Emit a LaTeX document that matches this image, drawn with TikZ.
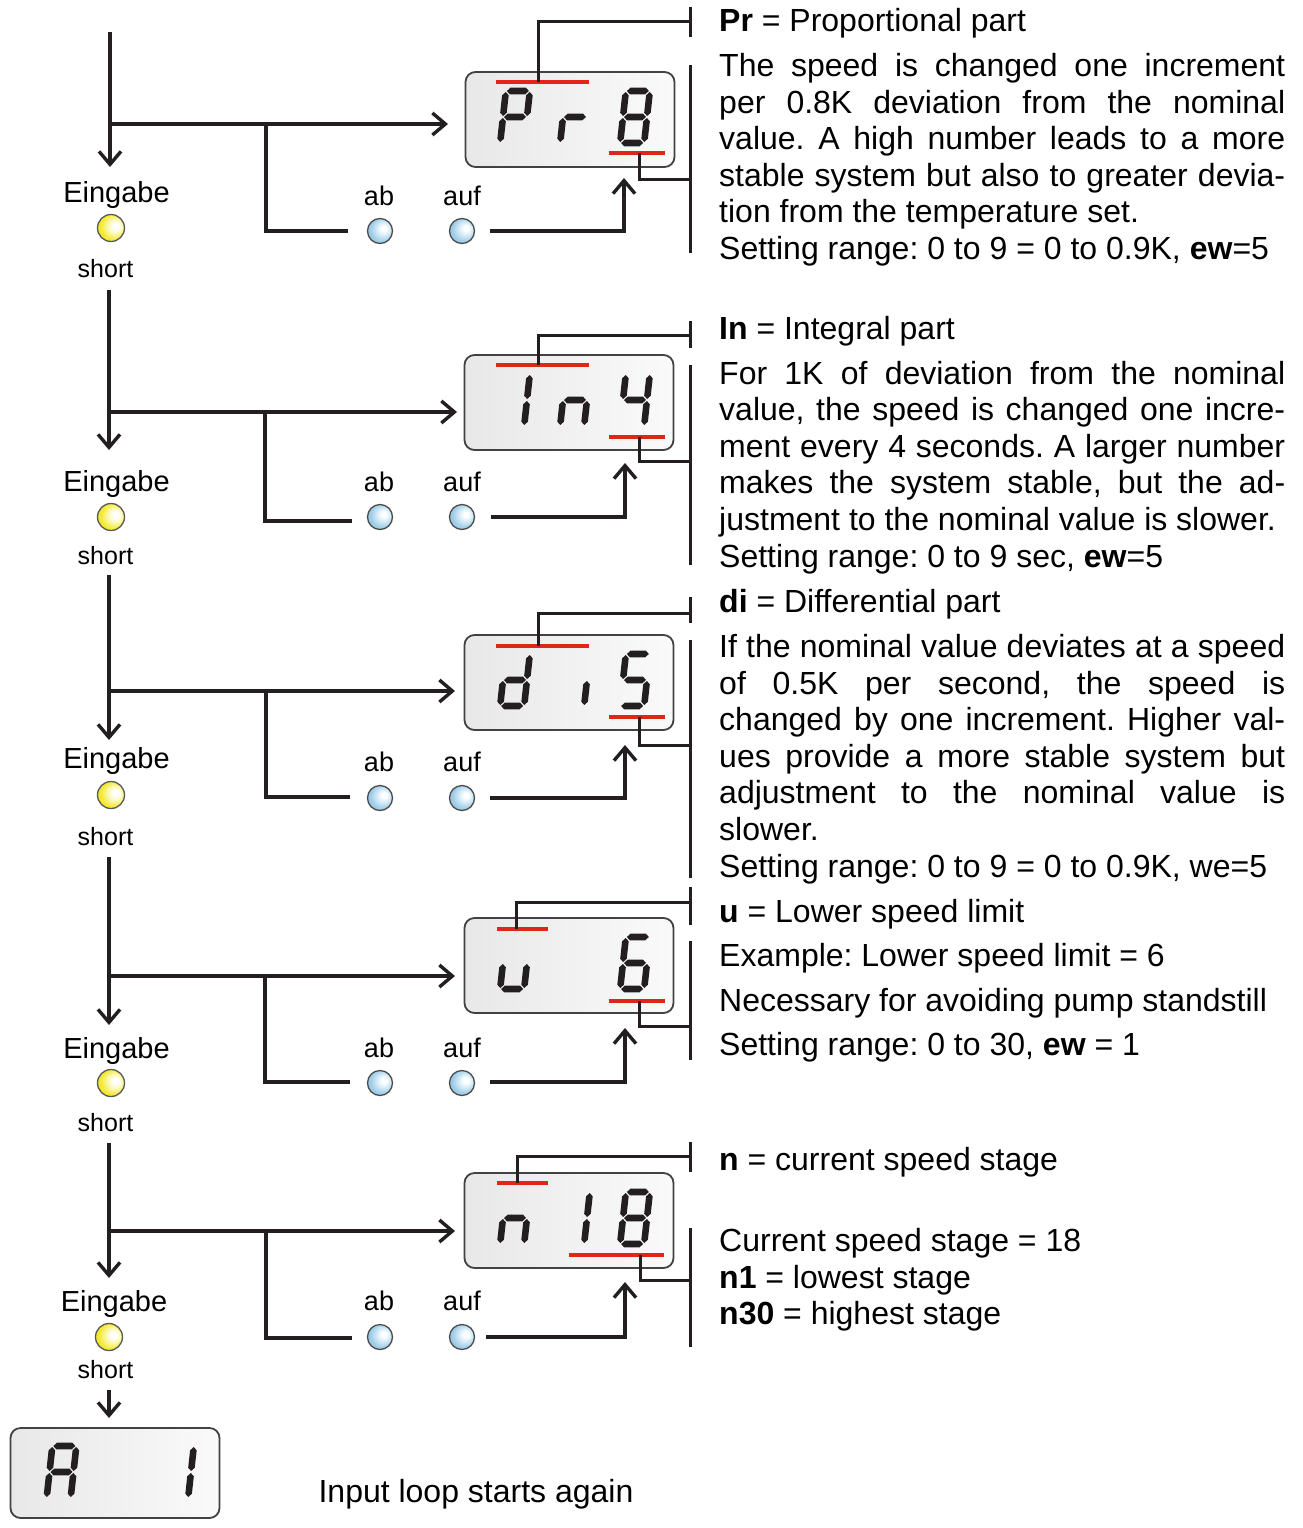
\documentclass[tikz,border=0pt]{standalone}
\usepackage{fontspec}
\setmainfont{Liberation Sans}
\usetikzlibrary{arrows.meta}
\definecolor{ink}{HTML}{231F20}
\definecolor{redbarc}{HTML}{E0251B}
\definecolor{ledhi}{HTML}{FFFFFF}
\definecolor{ledlite}{HTML}{FCF8B8}
\definecolor{ledmid}{HTML}{F3EA33}
\definecolor{ledmidb}{HTML}{E8DB22}
\definecolor{leddark}{HTML}{B5A61A}
\definecolor{btnlite}{HTML}{D6ECF8}
\definecolor{btnmid}{HTML}{9FCDE8}
\definecolor{btnmidb}{HTML}{88BADA}
\definecolor{btndark}{HTML}{4E84A8}
\pgfdeclareradialshading{ledshade}{\pgfpoint{10bp}{4bp}}{color(0bp)=(ledhi); color(5bp)=(ledhi); color(13bp)=(ledlite); color(24bp)=(ledmid); color(42bp)=(ledmidb); color(50bp)=(leddark)}
\pgfdeclareradialshading{btnshade}{\pgfpoint{9bp}{6bp}}{color(0bp)=(ledhi); color(5bp)=(ledhi); color(13bp)=(btnlite); color(24bp)=(btnmid); color(42bp)=(btnmidb); color(50bp)=(btndark)}
\tolerance=10000
\hbadness=10000
\hyphenpenalty=10000
\frenchspacing
\newcommand\hsegm[3]{\fill[ink] (#1,#3) -- ({#1+3.3},{#3-3.3}) -- ({#2-3.3},{#3-3.3}) -- (#2,#3) -- ({#2-3.3},{#3+3.3}) -- ({#1+3.3},{#3+3.3}) -- cycle;}
\newcommand\vsegm[3]{\fill[ink] (#1,#2) -- ({#1+3.3},{#2+3.3}) -- ({#1+3.3},{#3-3.3}) -- (#1,#3) -- ({#1-3.3},{#3-3.3}) -- ({#1-3.3},{#2+3.3}) -- cycle;}
\newcommand\segA{\hsegm{-11}{11}{-26}}
\newcommand\segG{\hsegm{-11}{11}{0}}
\newcommand\segD{\hsegm{-11}{11}{26}}
\newcommand\segF{\vsegm{-12}{-25}{-1}}
\newcommand\segB{\vsegm{12}{-25}{-1}}
\newcommand\segE{\vsegm{-12}{1}{25}}
\newcommand\segC{\vsegm{12}{1}{25}}
\newcommand\sdigit[3]{\begin{scope}[shift={(#1,#2)},xslant=0.11]\foreach \s in {#3}{\csname seg\s\endcsname}\end{scope}}
\begin{document}
\begin{tikzpicture}[x=1pt,y=-1pt,
  conn/.style={draw=ink,line width=3.4pt},
  arr/.style={conn,-{Straight Barb[length=13pt,width=22pt]}},
  brk/.style={draw=ink,line width=3pt},
  redln/.style={draw=redbarc,line width=4.5pt},
  disp/.style={draw=ink!85,line width=1.8pt,rounded corners=10pt,left color=black!9,right color=black!2,minimum width=209pt,minimum height=95pt,inner sep=0pt},
  led/.style={circle,draw=black!65,line width=1.3pt,minimum size=27pt,inner sep=0pt,shading=ledshade},
  btn/.style={circle,draw=black!70,line width=1.3pt,minimum size=25pt,inner sep=0pt,shading=btnshade},
  eing/.style={anchor=base,inner sep=0pt,font=\fontsize{29}{33}\selectfont},
  shortlbl/.style={anchor=base,inner sep=0pt,font=\fontsize{25}{29}\selectfont},
  blbl/.style={anchor=base,inner sep=0pt,font=\fontsize{27}{31}\selectfont},
  hdr/.style={anchor=base west,inner sep=0pt,font=\fontsize{32}{36.6}\selectfont},
  para/.style={anchor=base west,inner sep=0pt,text width=566pt,align=justify,font=\fontsize{32}{36.6}\selectfont}
]
\useasboundingbox (0,0) rectangle (1303,1528);
\fill[white] (0,0) rectangle (1303,1528);

% ================= Block 1 =================
\node[disp] (d1) at (570,119.5) {};
\sdigit{515}{117}{A,B,F,G,E}
\sdigit{575}{117}{E,G}
\sdigit{635}{117}{A,B,C,D,E,F,G}
\coordinate (r1a) at (496,82); \coordinate (r1b) at (589,82);
\coordinate (r1c) at (609,153); \coordinate (r1d) at (665,153);
\draw[redln] (r1a) -- (r1b);
\draw[redln] (r1c) -- (r1d);
\coordinate (p1) at (538,82); \coordinate (q1) at (690,22);
\draw[brk] (p1) |- (q1);
\coordinate (k1a) at (690,7); \coordinate (k1b) at (690,37);
\draw[brk] (k1a) -- (k1b);
\coordinate (p1b) at (639,153); \coordinate (q1b) at (690,179);
\draw[brk] (p1b) |- (q1b);
\coordinate (w1a) at (690,65); \coordinate (w1b) at (690,253);
\draw[brk] (w1a) -- (w1b);

\coordinate (v0) at (110,32); \coordinate (t1) at (110,167);
\draw[arr] (v0) -- (t1);
\node[eing] (e1) at (116.5,202) {Eingabe};
\node[led] (l1) at (111,228) {};
\node[shortlbl] (s1) at (105.5,277) {short};
\coordinate (h1) at (110,124); \coordinate (h1t) at (448,124);
\draw[arr] (h1) -- (h1t);
\coordinate (j1) at (266,124); \coordinate (j1e) at (348,231);
\draw[conn] (j1) |- (j1e);
\node[btn] (ab1) at (380,231) {};
\node[btn] (auf1) at (462,231) {};
\node[blbl] (abl1) at (379,205) {ab};
\node[blbl] (aufl1) at (462,205) {auf};
\coordinate (u1s) at (490,231); \coordinate (u1t) at (624,178);
\draw[arr] (u1s) -| (u1t);

\node[hdr] (th1) at (719,32) {\textbf{Pr} = Proportional part};
\node[para] (tp1) at (719,76.5) {The speed is changed one increment\linebreak per 0.8K deviation from the nominal\linebreak value. A high number leads to a more\linebreak stable system but also to greater devia-\linebreak tion from the temperature set.\par Setting range: 0 to 9 = 0 to 0.9K, \textbf{ew}=5};

% ================= Block 2 =================
\node[disp] (d2) at (569,402.5) {};
\sdigit{515}{400}{B,C}
\sdigit{575}{400}{C,E,G}
\sdigit{635}{400}{B,C,F,G}
\coordinate (r2a) at (496,365); \coordinate (r2b) at (589,365);
\coordinate (r2c) at (609,437); \coordinate (r2d) at (665,437);
\draw[redln] (r2a) -- (r2b);
\draw[redln] (r2c) -- (r2d);
\coordinate (p2) at (538,365); \coordinate (q2) at (690,335);
\draw[brk] (p2) |- (q2);
\coordinate (k2a) at (690,321); \coordinate (k2b) at (690,348);
\draw[brk] (k2a) -- (k2b);
\coordinate (p2b) at (639,437); \coordinate (q2b) at (690,461);
\draw[brk] (p2b) |- (q2b);
\coordinate (w2a) at (690,365); \coordinate (w2b) at (690,565);
\draw[brk] (w2a) -- (w2b);

\coordinate (v1) at (109,290); \coordinate (t2) at (109,450);
\draw[arr] (v1) -- (t2);
\node[eing] (e2) at (116.5,491) {Eingabe};
\node[led] (l2) at (111,517) {};
\node[shortlbl] (s2) at (105.5,564) {short};
\coordinate (h2) at (109,412); \coordinate (h2t) at (457,412);
\draw[arr] (h2) -- (h2t);
\coordinate (j2) at (265,412); \coordinate (j2e) at (352,521);
\draw[conn] (j2) |- (j2e);
\node[btn] (ab2) at (380,517) {};
\node[btn] (auf2) at (462,517) {};
\node[blbl] (abl2) at (379,491.5) {ab};
\node[blbl] (aufl2) at (462,491.5) {auf};
\coordinate (u2s) at (491,517); \coordinate (u2t) at (625,463);
\draw[arr] (u2s) -| (u2t);

\node[hdr] (th2) at (719,339) {\textbf{In} = Integral part};
\node[para] (tp2) at (719,384) {For 1K of deviation from the nominal\linebreak value, the speed is changed one incre-\linebreak ment every 4 seconds. A larger number\linebreak makes the system stable, but the ad-\linebreak justment to the nominal value is slower.\par Setting range: 0 to 9 sec, \textbf{ew}=5};

% ================= Block 3 =================
\node[disp] (d3) at (569,682.5) {};
\sdigit{515}{680}{B,C,D,E,G}
\sdigit{575}{680}{C}
\sdigit{635}{680}{A,F,G,C,D}
\coordinate (r3a) at (496,646); \coordinate (r3b) at (589,646);
\coordinate (r3c) at (609,717); \coordinate (r3d) at (665,717);
\draw[redln] (r3a) -- (r3b);
\draw[redln] (r3c) -- (r3d);
\coordinate (p3) at (538,646); \coordinate (q3) at (690,613);
\draw[brk] (p3) |- (q3);
\coordinate (k3a) at (690,597); \coordinate (k3b) at (690,623);
\draw[brk] (k3a) -- (k3b);
\coordinate (p3b) at (639,717); \coordinate (q3b) at (690,745);
\draw[brk] (p3b) |- (q3b);
\coordinate (w3a) at (690,640); \coordinate (w3b) at (690,878);
\draw[brk] (w3a) -- (w3b);

\coordinate (v2) at (109,575); \coordinate (t3) at (109,740);
\draw[arr] (v2) -- (t3);
\node[eing] (e3) at (116.5,768) {Eingabe};
\node[led] (l3) at (111,795) {};
\node[shortlbl] (s3) at (105.5,845) {short};
\coordinate (h3) at (109,691); \coordinate (h3t) at (455,691);
\draw[arr] (h3) -- (h3t);
\coordinate (j3) at (266,691); \coordinate (j3e) at (350,797);
\draw[conn] (j3) |- (j3e);
\node[btn] (ab3) at (380,798) {};
\node[btn] (auf3) at (462,798) {};
\node[blbl] (abl3) at (379,771.5) {ab};
\node[blbl] (aufl3) at (462,771.5) {auf};
\coordinate (u3s) at (490,798); \coordinate (u3t) at (625,745);
\draw[arr] (u3s) -| (u3t);

\node[hdr] (th3) at (719,612) {\textbf{di} = Differential part};
\node[para] (tp3) at (719,657.5) {If the nominal value deviates at a speed\linebreak of 0.5K per second, the speed is\linebreak changed by one increment. Higher val-\linebreak ues provide a more stable system but\linebreak adjustment to the nominal value is\linebreak slower.\par Setting range: 0 to 9 = 0 to 0.9K, we=5};

% ================= Block 4 =================
\node[disp] (d4) at (569,965.5) {};
\sdigit{515}{963}{C,D,E}
\sdigit{635}{963}{A,F,G,E,D,C}
\coordinate (r4a) at (497,929); \coordinate (r4b) at (548,929);
\coordinate (r4c) at (609,1001); \coordinate (r4d) at (665,1001);
\draw[redln] (r4a) -- (r4b);
\draw[redln] (r4c) -- (r4d);
\coordinate (p4) at (516,929); \coordinate (q4) at (690,902);
\draw[brk] (p4) |- (q4);
\coordinate (k4a) at (690,887); \coordinate (k4b) at (690,925);
\draw[brk] (k4a) -- (k4b);
\coordinate (p4b) at (639,1001); \coordinate (q4b) at (690,1026);
\draw[brk] (p4b) |- (q4b);
\coordinate (w4a) at (690,941); \coordinate (w4b) at (690,1060);
\draw[brk] (w4a) -- (w4b);

\coordinate (v3) at (109,857); \coordinate (t4) at (109,1025);
\draw[arr] (v3) -- (t4);
\node[eing] (e4) at (116.5,1058) {Eingabe};
\node[led] (l4) at (111,1083) {};
\node[shortlbl] (s4) at (105.5,1131) {short};
\coordinate (h4) at (109,976); \coordinate (h4t) at (455,976);
\draw[arr] (h4) -- (h4t);
\coordinate (j4) at (265,976); \coordinate (j4e) at (350,1082);
\draw[conn] (j4) |- (j4e);
\node[btn] (ab4) at (380,1083) {};
\node[btn] (auf4) at (462,1083) {};
\node[blbl] (abl4) at (379,1057.5) {ab};
\node[blbl] (aufl4) at (462,1057.5) {auf};
\coordinate (u4s) at (490,1082); \coordinate (u4t) at (625,1028);
\draw[arr] (u4s) -| (u4t);

\node[hdr] (th4a) at (719,922.5) {\textbf{u} = Lower speed limit};
\node[hdr] (th4b) at (719,966.5) {Example: Lower speed limit = 6};
\node[hdr] (th4c) at (719,1011) {Necessary for avoiding pump standstill};
\node[hdr] (th4d) at (719,1055) {Setting range: 0 to 30, \textbf{ew} = 1};

% ================= Block 5 =================
\node[disp] (d5) at (569,1220.5) {};
\sdigit{515}{1218}{C,E,G}
\sdigit{575}{1218}{B,C}
\sdigit{635}{1218}{A,B,C,D,E,F,G}
\coordinate (r5a) at (497,1183); \coordinate (r5b) at (548,1183);
\coordinate (r5c) at (569,1255); \coordinate (r5d) at (664,1255);
\draw[redln] (r5a) -- (r5b);
\draw[redln] (r5c) -- (r5d);
\coordinate (p5) at (517,1183); \coordinate (q5) at (690,1156);
\draw[brk] (p5) |- (q5);
\coordinate (k5a) at (690,1142); \coordinate (k5b) at (690,1172);
\draw[brk] (k5a) -- (k5b);
\coordinate (p5b) at (640,1255); \coordinate (q5b) at (690,1280);
\draw[brk] (p5b) |- (q5b);
\coordinate (w5a) at (690,1228); \coordinate (w5b) at (690,1347);
\draw[brk] (w5a) -- (w5b);

\coordinate (v4) at (109,1143); \coordinate (t5) at (109,1278);
\draw[arr] (v4) -- (t5);
\node[eing] (e5) at (114,1311) {Eingabe};
\node[led] (l5) at (109,1337) {};
\node[shortlbl] (s5) at (105.5,1378) {short};
\coordinate (h5) at (109,1231); \coordinate (h5t) at (455,1231);
\draw[arr] (h5) -- (h5t);
\coordinate (j5) at (266,1231); \coordinate (j5e) at (352,1338);
\draw[conn] (j5) |- (j5e);
\node[btn] (ab5) at (380,1337) {};
\node[btn] (auf5) at (462,1337) {};
\node[blbl] (abl5) at (379,1310.5) {ab};
\node[blbl] (aufl5) at (462,1310.5) {auf};
\coordinate (u5s) at (486,1337); \coordinate (u5t) at (625,1282);
\draw[arr] (u5s) -| (u5t);

\node[hdr] (th5a) at (719,1170.5) {\textbf{n} = current speed stage};
\node[hdr] (th5b) at (719,1251) {Current speed stage = 18};
\node[hdr] (th5c) at (719,1288) {\textbf{n1} = lowest stage};
\node[hdr] (th5d) at (719,1324.5) {\textbf{n30} = highest stage};

% ================= Bottom =================
\coordinate (v5) at (109,1390); \coordinate (t6) at (109,1418);
\draw[arr] (v5) -- (t6);
\node[disp,minimum height=90pt] (d6) at (115,1473) {};
\sdigit{61.5}{1472}{A,B,C,E,F,G}
\sdigit{179}{1472}{B,C}
\node[anchor=base,inner sep=0pt,font=\fontsize{32}{36.6}\selectfont] (loop) at (476,1502.5) {Input loop starts again};
\end{tikzpicture}
\end{document}
